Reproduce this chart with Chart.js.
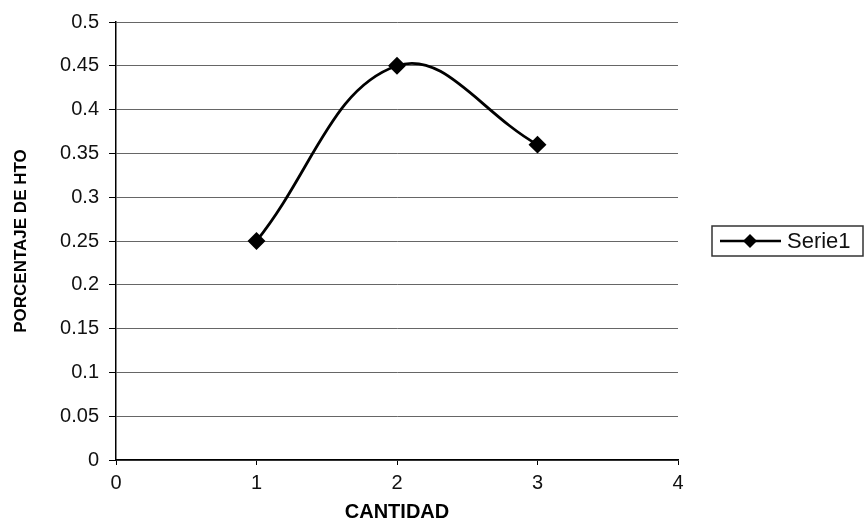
<!DOCTYPE html>
<html>
<head>
<meta charset="utf-8">
<script src="https://cdn.jsdelivr.net/npm/chart.js@4.4.1/dist/chart.umd.min.js"></script>
<style>
    html, body { margin: 0; padding: 0; background: #fff; }
    #wrap { width: 868px; height: 526px; }
</style>
</head>
<body>
<div id="wrap"><canvas id="hto-chart" width="868" height="526"></canvas></div>
<script>
// cantidad vs porcentaje de HTO
const cantidad = [1, 2, 3];
const porcentaje = [0.25, 0.45, 0.36];
const serieName = 'Serie1';
const xTitle = 'CANTIDAD';
const yTitle = 'PORCENTAJE DE HTO';

const points = cantidad.map((c, i) => ({ x: c, y: porcentaje[i] }));

// boxed legend on the right: line + diamond + label
const boxLegend = {
    id: 'boxLegend',
    afterDraw(chart) {
        const ctx = chart.ctx;
        const ds = chart.data.datasets[0];
        const bx = 712, by = 226, bw = 151, bh = 30;
        const cy = by + bh / 2;
        ctx.save();
        ctx.strokeStyle = '#333';
        ctx.lineWidth = 1.5;
        ctx.strokeRect(bx, by, bw, bh);

        ctx.strokeStyle = '#000';
        ctx.lineWidth = 2.5;
        ctx.beginPath();
        ctx.moveTo(bx + 8, cy);
        ctx.lineTo(bx + 69, cy);
        ctx.stroke();

        ctx.fillStyle = '#000';
        ctx.beginPath();
        ctx.moveTo(bx + 38, cy - 7);
        ctx.lineTo(bx + 45, cy);
        ctx.lineTo(bx + 38, cy + 7);
        ctx.lineTo(bx + 31, cy);
        ctx.closePath();
        ctx.fill();

        ctx.font = '22px "Liberation Sans", Arial, sans-serif';
        ctx.textBaseline = 'middle';
        ctx.fillStyle = '#111';
        ctx.fillText(ds.label, bx + 75, cy + 1);
        ctx.restore();
    }
};

new Chart(document.getElementById('hto-chart'), {
    type: 'line',
    data: {
        datasets: [{
            label: serieName,
            data: points,
            borderColor: '#000',
            backgroundColor: '#000',
            borderWidth: 2.8,
            tension: 0.4,
            pointStyle: 'rectRot',
            pointRadius: 7,
            pointHoverRadius: 7
        }]
    },
    options: {
        responsive: false,
        animation: false,
        layout: { padding: { left: 9, right: 190, top: 20, bottom: 0 } },
        plugins: {
            legend: { display: false },
            tooltip: { enabled: false }
        },
        scales: {
            x: {
                type: 'linear',
                min: 0,
                max: 4,
                ticks: {
                    stepSize: 1,
                    color: '#111',
                    padding: 6,
                    font: { family: '"Liberation Sans", Arial, sans-serif', size: 20 }
                },
                grid: {
                    drawOnChartArea: false,
                    tickLength: 5,
                    tickColor: '#000'
                },
                border: { color: '#000', width: 1.5 },
                title: {
                    display: true,
                    text: xTitle,
                    color: '#000',
                    font: { family: '"Liberation Sans", Arial, sans-serif', size: 20, weight: 'bold', lineHeight: 1 }
                },
                afterFit(scale) { scale.height = 66; }
            },
            y: {
                min: 0,
                max: 0.5,
                ticks: {
                    stepSize: 0.05,
                    color: '#111',
                    padding: 10,
                    font: { family: '"Liberation Sans", Arial, sans-serif', size: 20 },
                    callback: v => String(+v.toFixed(2))
                },
                grid: {
                    color: '#666',
                    lineWidth: 1,
                    tickLength: 7,
                    tickColor: '#000'
                },
                border: { color: '#000', width: 1.5 },
                title: {
                    display: true,
                    text: yTitle,
                    color: '#000',
                    font: { family: '"Liberation Sans", Arial, sans-serif', size: 17, weight: 'bold', lineHeight: 1 }
                },
                afterFit(scale) { scale.width = 107; }
            }
        }
    },
    plugins: [boxLegend]
});
</script>
</body>
</html>
